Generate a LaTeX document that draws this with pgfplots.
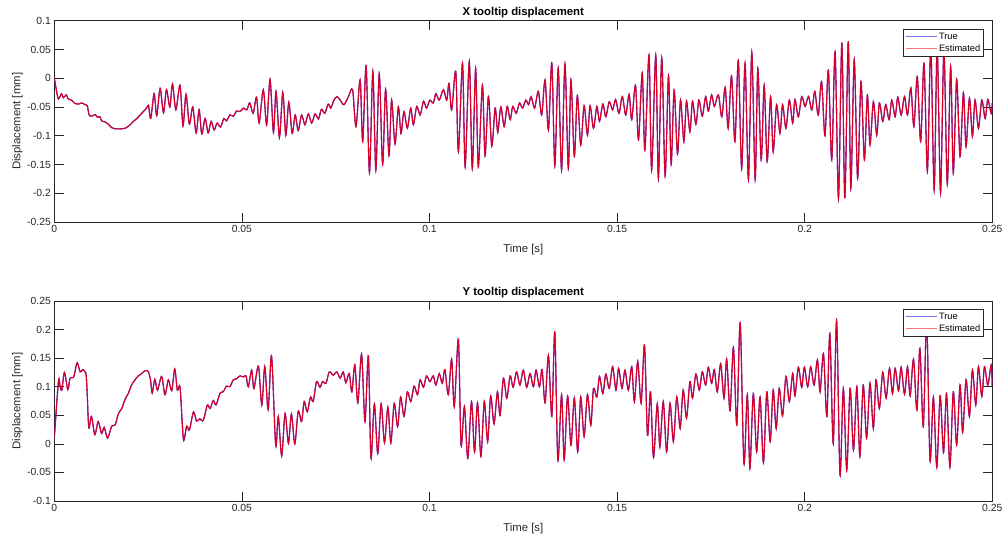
\documentclass[border=0pt]{standalone}
\usepackage{fontspec}
\setmainfont{Liberation Sans}
\usepackage{pgfplots}
\pgfplotsset{compat=1.18}
\usepackage{pgfplotstable}
\definecolor{axgray}{rgb}{0.15,0.15,0.15}

\pgfplotstableread{
t y
0.0000 0.000
0.0006 -0.022
0.0011 -0.036
0.0019 -0.027
0.0024 -0.034
0.0032 -0.029
0.0037 -0.036
0.0046 -0.038
0.0055 -0.044
0.0064 -0.045
0.0073 -0.043
0.0082 -0.046
0.0088 -0.048
0.0093 -0.064
0.0100 -0.066
0.0109 -0.063
0.0115 -0.068
0.0122 -0.067
0.0126 -0.074
0.0135 -0.076
0.0144 -0.080
0.0153 -0.086
0.0162 -0.088
0.0175 -0.088
0.0189 -0.087
0.0202 -0.081
0.0211 -0.075
0.0220 -0.070
0.0233 -0.061
0.0246 -0.052
0.0251 -0.047
0.0257 -0.070
0.0266 -0.027
0.0273 -0.065
0.0282 -0.018
0.0291 -0.060
0.0299 -0.020
0.0308 -0.050
0.0315 -0.010
0.0324 -0.055
0.0335 -0.012
0.0343 -0.083
0.0351 -0.028
0.0360 -0.080
0.0369 -0.050
0.0378 -0.095
0.0386 -0.055
0.0393 -0.097
0.0402 -0.070
0.0410 -0.095
0.0418 -0.075
0.0426 -0.090
0.0434 -0.078
0.0443 -0.085
0.0452 -0.070
0.0459 -0.074
0.0468 -0.064
0.0477 -0.066
0.0486 -0.057
0.0495 -0.058
0.0504 -0.052
0.0513 -0.055
0.0521 -0.043
0.0530 -0.061
0.0539 -0.033
0.0546 -0.078
0.0557 -0.020
0.0566 -0.081
0.0575 -0.002
0.0584 -0.094
0.0591 -0.023
0.0600 -0.103
0.0609 -0.025
0.0617 -0.099
0.0625 -0.042
0.0634 -0.096
0.0642 -0.064
0.0650 -0.091
0.0659 -0.064
0.0668 -0.081
0.0677 -0.062
0.0686 -0.078
0.0695 -0.062
0.0704 -0.071
0.0712 -0.054
0.0721 -0.061
0.0730 -0.045
0.0737 -0.052
0.0744 -0.040
0.0753 -0.032
0.0762 -0.038
0.0772 -0.046
0.0784 -0.032
0.0795 -0.020
0.0804 -0.084
0.0815 -0.003
0.0822 -0.110
0.0831 0.022
0.0840 -0.164
0.0849 0.012
0.0857 -0.160
0.0866 0.008
0.0875 -0.150
0.0883 -0.019
0.0892 -0.135
0.0899 -0.038
0.0908 -0.114
0.0917 -0.050
0.0924 -0.096
0.0932 -0.058
0.0941 -0.087
0.0950 -0.052
0.0957 -0.081
0.0966 -0.049
0.0975 -0.064
0.0984 -0.040
0.0992 -0.052
0.1001 -0.038
0.1010 -0.043
0.1017 -0.027
0.1026 -0.038
0.1037 -0.020
0.1046 -0.038
0.1052 -0.009
0.1059 -0.055
0.1070 0.012
0.1077 -0.128
0.1088 0.026
0.1095 -0.154
0.1106 0.029
0.1114 -0.157
0.1123 0.017
0.1130 -0.154
0.1141 -0.012
0.1148 -0.135
0.1157 -0.032
0.1166 -0.118
0.1175 -0.052
0.1182 -0.094
0.1190 -0.050
0.1199 -0.084
0.1207 -0.049
0.1215 -0.072
0.1222 -0.049
0.1231 -0.061
0.1240 -0.043
0.1248 -0.052
0.1257 -0.038
0.1264 -0.046
0.1271 -0.032
0.1280 -0.052
0.1290 -0.023
0.1299 -0.064
0.1308 -0.003
0.1317 -0.090
0.1326 0.027
0.1334 -0.152
0.1343 0.017
0.1352 -0.160
0.1361 0.025
0.1370 -0.157
0.1377 -0.003
0.1386 -0.136
0.1394 -0.030
0.1403 -0.116
0.1412 -0.048
0.1421 -0.099
0.1428 -0.048
0.1437 -0.087
0.1446 -0.049
0.1453 -0.075
0.1462 -0.045
0.1470 -0.067
0.1479 -0.041
0.1488 -0.055
0.1496 -0.037
0.1505 -0.061
0.1514 -0.032
0.1523 -0.064
0.1532 -0.028
0.1539 -0.072
0.1549 -0.012
0.1557 -0.107
0.1567 0.009
0.1574 -0.125
0.1585 0.040
0.1592 -0.160
0.1603 0.040
0.1610 -0.174
0.1619 0.035
0.1628 -0.170
0.1637 0.004
0.1644 -0.150
0.1652 -0.021
0.1661 -0.132
0.1669 -0.038
0.1678 -0.110
0.1685 -0.040
0.1694 -0.093
0.1701 -0.040
0.1710 -0.080
0.1718 -0.038
0.1727 -0.066
0.1736 -0.032
0.1743 -0.057
0.1752 -0.029
0.1759 -0.049
0.1770 -0.029
0.1779 -0.067
0.1788 -0.016
0.1796 -0.087
0.1805 0.004
0.1814 -0.110
0.1823 0.031
0.1832 -0.157
0.1841 0.026
0.1850 -0.176
0.1859 0.045
0.1868 -0.176
0.1875 0.017
0.1884 -0.142
0.1892 -0.012
0.1900 -0.145
0.1909 -0.032
0.1916 -0.128
0.1925 -0.046
0.1934 -0.096
0.1941 -0.046
0.1950 -0.087
0.1959 -0.038
0.1968 -0.078
0.1974 -0.037
0.1983 -0.067
0.1992 -0.032
0.2001 -0.049
0.2010 -0.032
0.2019 -0.055
0.2027 -0.023
0.2036 -0.064
0.2045 -0.006
0.2054 -0.100
0.2063 0.014
0.2072 -0.142
0.2081 0.046
0.2090 -0.209
0.2099 0.062
0.2107 -0.209
0.2116 0.064
0.2123 -0.191
0.2132 0.032
0.2141 -0.174
0.2150 -0.006
0.2159 -0.142
0.2167 -0.029
0.2174 -0.116
0.2183 -0.041
0.2192 -0.099
0.2199 -0.043
0.2208 -0.075
0.2216 -0.046
0.2225 -0.072
0.2232 -0.038
0.2241 -0.067
0.2248 -0.033
0.2257 -0.064
0.2266 -0.032
0.2274 -0.064
0.2283 -0.017
0.2291 -0.084
0.2300 0.003
0.2309 -0.110
0.2318 0.026
0.2327 -0.162
0.2336 0.055
0.2345 -0.194
0.2353 0.055
0.2362 -0.199
0.2371 0.049
0.2380 -0.184
0.2389 0.020
0.2396 -0.165
0.2405 -0.002
0.2414 -0.136
0.2423 -0.025
0.2430 -0.119
0.2439 -0.035
0.2447 -0.101
0.2454 -0.038
0.2463 -0.087
0.2472 -0.038
0.2481 -0.070
0.2488 -0.037
0.2497 -0.061
0.2500 -0.043
}\xdata

\pgfplotstableread{
t y
0.0000 0.010
0.0011 0.109
0.0015 0.103
0.0020 0.094
0.0027 0.125
0.0036 0.095
0.0042 0.115
0.0051 0.116
0.0055 0.126
0.0061 0.142
0.0069 0.126
0.0076 0.130
0.0082 0.126
0.0085 0.120
0.0088 0.083
0.0092 0.028
0.0099 0.048
0.0108 0.016
0.0117 0.039
0.0126 0.018
0.0133 0.029
0.0142 0.010
0.0153 0.031
0.0162 0.033
0.0171 0.053
0.0180 0.062
0.0188 0.077
0.0197 0.088
0.0206 0.103
0.0215 0.112
0.0224 0.119
0.0233 0.123
0.0242 0.128
0.0251 0.126
0.0257 0.109
0.0261 0.089
0.0268 0.113
0.0275 0.094
0.0286 0.118
0.0295 0.086
0.0304 0.112
0.0313 0.093
0.0321 0.131
0.0328 0.094
0.0335 0.100
0.0341 0.036
0.0345 0.006
0.0353 0.031
0.0360 0.024
0.0371 0.056
0.0379 0.040
0.0388 0.044
0.0397 0.041
0.0408 0.068
0.0415 0.062
0.0424 0.076
0.0431 0.068
0.0442 0.089
0.0450 0.091
0.0459 0.101
0.0468 0.100
0.0477 0.112
0.0486 0.114
0.0495 0.119
0.0504 0.117
0.0511 0.119
0.0517 0.100
0.0526 0.129
0.0532 0.097
0.0544 0.136
0.0553 0.068
0.0561 0.135
0.0570 0.060
0.0579 0.154
0.0590 -0.002
0.0597 0.048
0.0606 -0.021
0.0615 0.053
0.0624 0.001
0.0632 0.052
0.0641 0.000
0.0650 0.057
0.0659 0.039
0.0666 0.074
0.0674 0.056
0.0683 0.082
0.0690 0.074
0.0699 0.109
0.0708 0.099
0.0715 0.109
0.0724 0.106
0.0733 0.126
0.0744 0.120
0.0753 0.126
0.0762 0.115
0.0770 0.126
0.0777 0.107
0.0786 0.123
0.0793 0.091
0.0801 0.138
0.0809 0.072
0.0819 0.157
0.0828 0.039
0.0837 0.154
0.0844 -0.025
0.0853 0.070
0.0862 -0.017
0.0871 0.070
0.0880 0.002
0.0889 0.064
0.0897 0.002
0.0906 0.071
0.0915 0.030
0.0923 0.082
0.0932 0.048
0.0941 0.091
0.0950 0.074
0.0959 0.101
0.0968 0.086
0.0975 0.112
0.0984 0.099
0.0992 0.119
0.1001 0.109
0.1010 0.119
0.1017 0.103
0.1026 0.123
0.1034 0.106
0.1041 0.130
0.1050 0.086
0.1059 0.148
0.1066 0.065
0.1077 0.183
0.1084 -0.002
0.1093 0.065
0.1102 -0.025
0.1112 0.074
0.1120 -0.014
0.1128 0.072
0.1137 -0.022
0.1146 0.074
0.1155 0.004
0.1163 0.084
0.1172 0.035
0.1181 0.091
0.1188 0.050
0.1197 0.115
0.1206 0.080
0.1215 0.119
0.1223 0.099
0.1232 0.126
0.1241 0.103
0.1250 0.129
0.1259 0.099
0.1268 0.123
0.1277 0.100
0.1284 0.129
0.1293 0.100
0.1300 0.130
0.1308 0.072
0.1317 0.155
0.1326 0.048
0.1334 0.196
0.1342 -0.028
0.1352 0.086
0.1359 -0.028
0.1368 0.084
0.1377 -0.002
0.1386 0.080
0.1395 -0.014
0.1403 0.082
0.1412 0.013
0.1421 0.086
0.1430 0.033
0.1437 0.097
0.1446 0.082
0.1453 0.118
0.1462 0.088
0.1470 0.122
0.1479 0.097
0.1488 0.135
0.1497 0.094
0.1504 0.132
0.1513 0.097
0.1521 0.129
0.1530 0.094
0.1539 0.135
0.1546 0.074
0.1555 0.144
0.1564 0.071
0.1573 0.173
0.1581 0.015
0.1589 0.091
0.1597 -0.024
0.1607 0.070
0.1614 -0.005
0.1623 0.074
0.1632 -0.014
0.1641 0.071
0.1650 0.004
0.1659 0.082
0.1668 0.027
0.1676 0.094
0.1685 0.045
0.1694 0.109
0.1701 0.080
0.1710 0.122
0.1719 0.094
0.1727 0.126
0.1736 0.103
0.1743 0.134
0.1752 0.106
0.1759 0.130
0.1767 0.091
0.1776 0.140
0.1785 0.080
0.1792 0.148
0.1801 0.058
0.1810 0.169
0.1819 0.033
0.1828 0.212
0.1838 -0.034
0.1847 0.086
0.1854 -0.043
0.1863 0.088
0.1872 -0.014
0.1881 0.082
0.1890 -0.033
0.1899 0.091
0.1908 0.004
0.1916 0.094
0.1924 0.027
0.1932 0.097
0.1941 0.049
0.1950 0.118
0.1959 0.074
0.1968 0.123
0.1974 0.084
0.1983 0.134
0.1992 0.099
0.1999 0.134
0.2008 0.100
0.2016 0.135
0.2025 0.103
0.2034 0.147
0.2041 0.091
0.2050 0.158
0.2059 0.048
0.2067 0.193
0.2076 0.001
0.2085 0.216
0.2094 -0.054
0.2103 0.097
0.2112 -0.046
0.2121 0.097
0.2130 -0.011
0.2139 0.100
0.2147 -0.022
0.2156 0.103
0.2165 0.010
0.2174 0.106
0.2183 0.027
0.2190 0.112
0.2199 0.062
0.2208 0.125
0.2217 0.080
0.2226 0.132
0.2234 0.088
0.2241 0.132
0.2250 0.093
0.2257 0.134
0.2266 0.087
0.2274 0.135
0.2281 0.084
0.2290 0.148
0.2299 0.059
0.2307 0.167
0.2316 0.030
0.2325 0.215
0.2334 -0.029
0.2343 0.082
0.2352 -0.041
0.2361 0.084
0.2370 -0.015
0.2378 0.088
0.2387 -0.041
0.2396 0.091
0.2405 -0.002
0.2414 0.103
0.2421 0.020
0.2430 0.112
0.2439 0.048
0.2447 0.129
0.2456 0.068
0.2463 0.135
0.2472 0.083
0.2479 0.135
0.2488 0.103
0.2497 0.138
0.2500 0.100
}\ydata

\pgfplotsset{
  every axis title shift=0pt,
  mstyle/.style={
    scale only axis,
    width=938bp,
    xmin=0, xmax=0.25,
    xtick={0,0.05,0.1,0.15,0.2,0.25},
    xticklabels={0,0.05,0.1,0.15,0.2,0.25},
    tick align=inside,
    major tick length=9.4bp,
    xtick pos=both, ytick pos=both,
    axis line style={axgray, line width=0.6bp},
    every tick/.style={axgray, line width=0.6bp},
    tick label style={font=\fontsize{10.4}{12}\selectfont, text=axgray},
    label style={font=\fontsize{11.4}{13}\selectfont, text=axgray},
    title style={font=\bfseries\fontsize{11.4}{13}\selectfont, anchor=base},
    ylabel style={at={(axis description cs:-0.0394,0.5)}, anchor=center},
    ylabel={Displacement [mm]},
    xlabel={Time [s]},
    legend style={font=\fontsize{9.3}{11}\selectfont, draw=axgray, line width=0.6bp,
      at={(axis description cs:0.9912,0.9588)}, anchor=north east,
      inner sep=1.5bp, row sep=-0.3bp, fill=white},
    legend cell align=left,
    legend image code/.code={\draw[#1, line width=1bp, opacity=0.55] (0bp,0bp) -- (31bp,0bp);},
    clip=true,
  },
  truestyle/.style={blue, line width=1.1bp, smooth, tension=0.5},
  eststyle/.style={red, opacity=0.85, line width=1.1bp, smooth, tension=0.5},
}

\begin{document}
\begin{tikzpicture}
\path[use as bounding box] (0,0) rectangle (1002bp,538bp);
\begin{axis}[mstyle,
  at={(54.3bp,316bp)}, anchor=south west,
  height=201.3bp,
  ymin=-0.25, ymax=0.1,
  ytick={-0.25,-0.2,-0.15,-0.1,-0.05,0,0.05,0.1},
  yticklabels={-0.25,-0.2,-0.15,-0.1,-0.05,0,0.05,0.1},
  title={X tooltip displacement},
  title style={at={(axis description cs:0.5,1.028)}},
  xlabel style={at={(axis description cs:0.5,-0.135)}, anchor=center},
]
\addplot[truestyle] table[x=t,y=y] {\xdata};
\addlegendentry{True}
\addplot[eststyle] table[x=t,y=y] {\xdata};
\addlegendentry{Estimated}
\end{axis}
\begin{axis}[mstyle,
  at={(54.3bp,37bp)}, anchor=south west,
  height=200bp,
  ymin=-0.1, ymax=0.25,
  ytick={-0.1,-0.05,0,0.05,0.1,0.15,0.2,0.25},
  yticklabels={-0.1,-0.05,0,0.05,0.1,0.15,0.2,0.25},
  title={Y tooltip displacement},
  title style={at={(axis description cs:0.5,1.03)}},
  xlabel style={at={(axis description cs:0.5,-0.137)}, anchor=center},
]
\addplot[truestyle] table[x=t,y=y] {\ydata};
\addlegendentry{True}
\addplot[eststyle] table[x=t,y=y] {\ydata};
\addlegendentry{Estimated}
\end{axis}
\end{tikzpicture}
\end{document}
